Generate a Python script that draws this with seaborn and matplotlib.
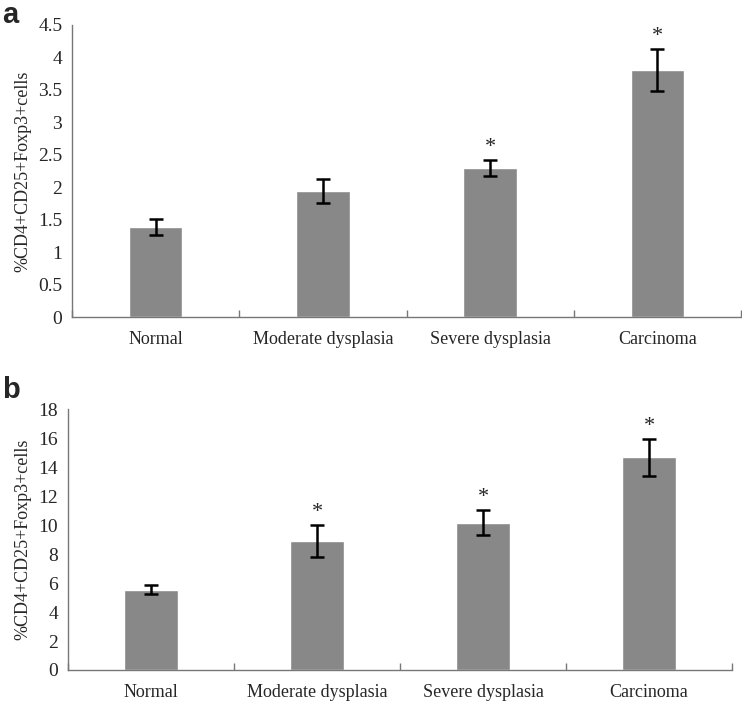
import seaborn as sns
import matplotlib.pyplot as plt
import pandas as pd

# data
groups = ["Normal", "Moderate dysplasia", "Severe dysplasia", "Carcinoma"]
mean_a = [1.39, 1.94, 2.30, 3.81]
err_a = [0.12, 0.19, 0.12, 0.32]
star_a = [False, False, True, True]
mean_b = [5.55, 8.91, 10.17, 14.69]
err_b = [0.30, 1.10, 0.88, 1.27]
star_b = [False, True, True, True]

sns.set_theme(style="white")
plt.rcParams['font.family'] = ['Liberation Serif', 'DejaVu Serif']

fig = plt.figure(figsize=(7.42, 7.02), dpi=100)
ax_a = fig.add_axes([0.097, 0.5484, 0.9017, 0.416])
ax_b = fig.add_axes([0.0916, 0.0456, 0.8949, 0.3714])


def draw_panel(ax, mean, err, star, ymax, step, star_off):
    df = pd.DataFrame({"group": groups, "value": mean})
    sns.barplot(data=df, x="group", y="value", color="#888888", saturation=1,
                width=0.32, ax=ax, errorbar=None)
    ax.errorbar(range(len(groups)), mean, yerr=err, fmt="none", ecolor="black",
                elinewidth=1.8, capsize=5, capthick=1.8)
    for i, s in enumerate(star):
        if s:
            ax.text(i, mean[i] + err[i] + star_off, "*", ha="center", va="bottom",
                    fontsize=16)
    ax.set_xlim(-0.5, len(groups) - 0.5)
    ax.set_ylim(0, ymax)
    ticks = [k * step for k in range(int(round(ymax / step)) + 1)]
    ax.set_yticks(ticks)
    ax.set_yticklabels([f"{t:g}" for t in ticks], fontsize=14)
    ax.set_xticks(range(len(groups)))
    ax.set_xticklabels(groups, fontsize=13)
    ax.set_xticks([i - 0.5 for i in range(len(groups) + 1)], minor=True)
    ax.tick_params(axis="x", which="major", length=0, pad=10)
    ax.tick_params(axis="x", which="minor", direction="in", length=5,
                   color="#777777", bottom=True)
    ax.tick_params(axis="y", length=0, pad=7)
    ax.set_xlabel("")
    ax.set_ylabel("%CD4+CD25+Foxp3+cells", fontsize=13, labelpad=5)
    for side in ["top", "right"]:
        ax.spines[side].set_visible(False)
    for side in ["left", "bottom"]:
        ax.spines[side].set_color("#777777")
        ax.spines[side].set_linewidth(1)


draw_panel(ax_a, mean_a, err_a, star_a, 4.5, 0.5, 0.04)
draw_panel(ax_b, mean_b, err_b, star_b, 18, 2, 0.2)

fig.text(0.003, 0.998, "a", fontsize=21, fontweight="bold", va="top",
         family="Liberation Sans")
fig.text(0.003, 0.465, "b", fontsize=21, fontweight="bold", va="top",
         family="Liberation Sans")

fig.savefig("out.png", dpi=100)
